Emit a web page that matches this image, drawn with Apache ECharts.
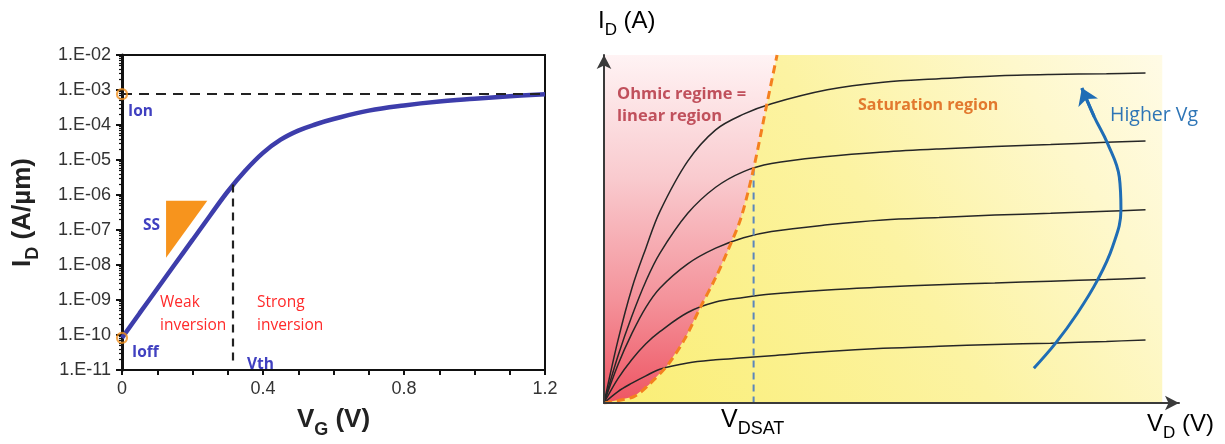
<!DOCTYPE html>
<html>
<head>
<meta charset="utf-8">
<script src="https://cdn.jsdelivr.net/npm/echarts@6/dist/echarts.min.js"></script>
<style>
  html, body { margin: 0; padding: 0; background: #ffffff; }
  #chart { width: 1225px; height: 444px; }
</style>
</head>
<body>
<div id="chart"></div>
<script>
// ---------- Transfer characteristic I_D(V_G), log scale ----------
const vg = [0, 0.05, 0.1, 0.15, 0.2, 0.25, 0.3, 0.35, 0.4, 0.45, 0.5, 0.55, 0.6, 0.7, 0.8, 0.9, 1.0, 1.1, 1.2];
const idTransfer = [8.3e-11, 4.2e-10, 2.1e-9, 1.05e-8, 5.2e-8, 2.6e-7, 1.26e-6, 5.0e-6, 1.6e-5,
                    3.8e-5, 6.9e-5, 1.05e-4, 1.48e-4, 2.57e-4, 3.63e-4, 4.68e-4, 5.6e-4, 6.6e-4, 7.6e-4];
const ion = 7.6e-4;
const ioff = 8.3e-11;
const vth = 0.315;
const idAtVth = 2.0e-6;
const vthLineEnd = 1.8e-11;
const ssTriangleVg = [0.125, 0.242, 0.125];
const ssTriangleId = [6.8e-7, 6.8e-7, 1.6e-8];
const vgTickStep = 0.4;
const idTickLabels = ['1.E-11', '1.E-10', '1.E-09', '1.E-08', '1.E-07', '1.E-06', '1.E-05', '1.E-04', '1.E-03', '1.E-02'];

// ---------- Output characteristic I_D(V_D), arbitrary linear units ----------
const vd = [0, 0.25, 0.5, 0.75, 1.0, 1.5, 2.0, 2.5, 3.0, 4.0, 5.0, 6.0, 7.0, 8.0, 9.0, 9.7];
const idVg5 = [0, 1.8, 3.3, 4.45, 5.5, 6.95, 7.85, 8.3, 8.6, 9.0, 9.22, 9.32, 9.4, 9.44, 9.46, 9.48];
const idVg4 = [0, 1.35, 2.5, 3.5, 4.3, 5.45, 6.2, 6.65, 6.88, 7.08, 7.21, 7.3, 7.37, 7.43, 7.49, 7.53];
const idVg3 = [0, 1.1, 2.0, 2.75, 3.3, 4.0, 4.45, 4.75, 4.93, 5.12, 5.26, 5.33, 5.4, 5.45, 5.51, 5.55];
const idVg2 = [0, 0.7, 1.25, 1.7, 2.05, 2.6, 2.9, 3.03, 3.13, 3.25, 3.33, 3.4, 3.45, 3.5, 3.55, 3.59];
const idVg1 = [0, 0.33, 0.57, 0.78, 0.97, 1.15, 1.24, 1.3, 1.36, 1.48, 1.57, 1.63, 1.68, 1.72, 1.77, 1.81];
// V_DSAT boundary between the ohmic and saturation regions
const satEdgeVd = [0, 0.53, 0.8, 1.14, 1.45, 1.73, 2.0, 2.21, 2.45, 2.68, 2.92, 3.1];
const satEdgeId = [0, 0.18, 0.52, 1.09, 1.85, 2.76, 3.6, 4.35, 5.3, 6.74, 8.61, 10];
const vdsat = 2.68;
const idAtVdsat = 6.74;
const regionMaxVd = 10;
const regionMaxId = 10;
// "Higher Vg" arrow path
const arrowVd = [7.70, 8.09, 8.48, 8.84, 9.11, 9.26, 9.23, 9.02, 8.78, 8.56];
const arrowId = [1.00, 1.72, 2.58, 3.53, 4.49, 5.55, 6.50, 7.46, 8.23, 9.05];

const zip = (xs, ys) => xs.map((x, i) => [x, ys[i]]);

const SANS = 'Liberation Sans';
const CAL = 'Open Sans';

const chart = echarts.init(document.getElementById('chart'), null, { renderer: 'canvas' });

const outputCurves = [idVg1, idVg2, idVg3, idVg4, idVg5].map((ids, k) => ({
  name: 'Vg' + (k + 1),
  type: 'line',
  xAxisIndex: 1, yAxisIndex: 1,
  data: zip(vd, ids),
  smooth: 0.35,
  showSymbol: false,
  silent: true,
  z: 3,
  lineStyle: { color: '#262626', width: 1.5 }
}));

const subTitleRich = (big, small, weight) => ({
  m: { fontFamily: SANS, fontWeight: weight, fontSize: big, color: '#222222', verticalAlign: 'bottom', padding: [0, 0, 6, 0] },
  s: { fontFamily: SANS, fontWeight: weight, fontSize: small, color: '#222222', verticalAlign: 'bottom' }
});

const arrowAxis = (max) => ({
  gridIndex: 1, type: 'value', min: 0, max: max, z: 10,
  axisLine: { show: true, onZero: false, symbol: ['none', 'arrow'], symbolSize: [11, 14], lineStyle: { color: '#3a3a3a', width: 2 } },
  axisTick: { show: false }, axisLabel: { show: false }, splitLine: { show: false }
});

const option = {
  animation: false,
  backgroundColor: '#ffffff',
  grid: [
    { left: 122, top: 55, width: 423, height: 321, show: true, borderColor: '#111111', borderWidth: 2, backgroundColor: 'rgba(0,0,0,0)' },
    { left: 604, top: 55, width: 575, height: 348 }
  ],
  xAxis: [
    {
      gridIndex: 0, type: 'value', min: 0, max: 1.2, interval: vgTickStep,
      axisLine: { show: true, onZero: false, lineStyle: { color: '#111111', width: 2 } },
      axisTick: { show: true, inside: false, length: 5, lineStyle: { color: '#111111', width: 2 } },
      minorTick: { show: true, splitNumber: 4, length: 5, lineStyle: { color: '#111111', width: 2 } },
      splitLine: { show: false },
      axisLabel: { fontFamily: SANS, fontSize: 18, color: '#333333', margin: 10 },
      name: '{m|V}{s|G}{m| (V)}',
      nameLocation: 'middle', nameGap: 37,
      nameTextStyle: { rich: subTitleRich(26, 18, 'bold') }
    },
    arrowAxis(10.3)
  ],
  yAxis: [
    {
      gridIndex: 0, type: 'log', logBase: 10, min: 1e-11, max: 1e-2,
      axisLine: { show: true, onZero: false, lineStyle: { color: '#111111', width: 3 } },
      axisTick: { show: true, inside: false, length: 6, lineStyle: { color: '#111111', width: 2 } },
      minorTick: { show: true, splitNumber: 9, length: 3, lineStyle: { color: '#111111', width: 1.2 } },
      splitLine: { show: false },
      axisLabel: {
        fontFamily: SANS, fontSize: 18, color: '#333333', margin: 11,
        formatter: v => idTickLabels[Math.round(Math.log10(v)) + 11] || ''
      },
      name: '{m|I}{s|D}{m| (A/µm)}',
      nameLocation: 'middle', nameGap: 80, nameRotate: 90,
      nameTextStyle: { rich: subTitleRich(26, 18, 'bold') }
    },
    arrowAxis(regionMaxId)
  ],
  series: [
    // ---- left: transfer curve with Ion and Vth guides ----
    {
      name: 'ID-VG', type: 'line', xAxisIndex: 0, yAxisIndex: 0,
      data: zip(vg, idTransfer),
      smooth: 0.4, showSymbol: false, silent: true, z: 3,
      lineStyle: { color: '#3d3dab', width: 4.5 },
      markLine: {
        symbol: 'none', silent: true, label: { show: false },
        lineStyle: { color: '#222222', width: 2, type: [10, 7] },
        data: [
          [{ coord: [0, ion] }, { coord: [1.2, ion] }],
          [{ coord: [vth, idAtVth], lineStyle: { type: [8, 6], width: 2.2 } }, { coord: [vth, vthLineEnd] }]
        ]
      }
    },
    {
      name: 'SS', type: 'custom', xAxisIndex: 0, yAxisIndex: 0, silent: true, z: 2,
      data: [[0, 0]],
      renderItem: (params, api) => ({
        type: 'polygon',
        shape: { points: ssTriangleVg.map((x, i) => api.coord([x, ssTriangleId[i]])) },
        style: { fill: '#f7941d' }
      })
    },
    {
      name: 'Ion/Ioff', type: 'scatter', xAxisIndex: 0, yAxisIndex: 0, silent: true, z: 8, zlevel: 1, clip: false,
      data: [[0, ion], [0, ioff]],
      symbol: 'circle', symbolSize: 10,
      itemStyle: { color: 'rgba(0,0,0,0)', borderColor: '#f0901e', borderWidth: 2.2 }
    },
    // ---- right: regions, curves, boundary, arrow ----
    {
      name: 'saturation area', type: 'custom', xAxisIndex: 1, yAxisIndex: 1, silent: true, z: 1,
      data: [[0, 0]],
      renderItem: (params, api) => {
        const a = api.coord([0, regionMaxId]);
        const b = api.coord([regionMaxVd, 0]);
        return {
          type: 'rect',
          shape: { x: a[0], y: a[1], width: b[0] - a[0], height: b[1] - a[1] },
          style: {
            fill: new echarts.graphic.LinearGradient(0, 1, 1, 0, [
              { offset: 0, color: '#faee74' },
              { offset: 0.5, color: '#fcf3a2' },
              { offset: 0.8, color: '#fef8cc' },
              { offset: 1, color: '#fffbe6' }
            ])
          }
        };
      }
    },
    {
      name: 'ohmic area', type: 'custom', xAxisIndex: 1, yAxisIndex: 1, silent: true, z: 2,
      data: [[0, 0]],
      renderItem: (params, api) => {
        const pts = satEdgeVd.map((x, i) => api.coord([x, satEdgeId[i]]));
        pts.push(api.coord([0, regionMaxId]));
        return {
          type: 'polygon',
          shape: { points: pts },
          style: {
            fill: new echarts.graphic.LinearGradient(0, 0, 0, 1, [
              { offset: 0, color: '#fff3f4' },
              { offset: 0.35, color: '#f9cbcf' },
              { offset: 0.7, color: '#f4939b' },
              { offset: 1, color: '#ee5563' }
            ])
          }
        };
      }
    },
    ...outputCurves,
    {
      name: 'VDSAT', type: 'line', xAxisIndex: 1, yAxisIndex: 1,
      data: [[vdsat, idAtVdsat], [vdsat, 0]],
      showSymbol: false, silent: true, z: 4,
      lineStyle: { color: '#5b86bd', width: 2, type: [7, 5] }
    },
    {
      name: 'sat edge', type: 'line', xAxisIndex: 1, yAxisIndex: 1,
      data: zip(satEdgeVd, satEdgeId),
      smooth: 0.3, showSymbol: false, silent: true, z: 5,
      lineStyle: { color: '#f4801f', width: 3, type: [8, 5] }
    },
    {
      name: 'Higher Vg', type: 'line', xAxisIndex: 1, yAxisIndex: 1,
      data: zip(arrowVd, arrowId),
      smooth: 0.4, showSymbol: false, silent: true, z: 6,
      lineStyle: { color: '#1f6db5', width: 3 }
    },
    {
      name: 'Higher Vg head', type: 'lines', coordinateSystem: 'cartesian2d', xAxisIndex: 1, yAxisIndex: 1,
      silent: true, z: 6,
      symbol: ['none', 'arrow'], symbolSize: 16,
      lineStyle: { color: '#1f6db5', width: 3, opacity: 1, curveness: 0 },
      data: [{ coords: [[arrowVd[8], arrowId[8]], [arrowVd[9], arrowId[9]]] }]
    }
  ],
  graphic: [
    // left annotations
    { type: 'text', x: 128, y: 112, silent: true, style: { text: 'Ion', font: `bold 15.5px "${CAL}"`, fill: '#4040c0', verticalAlign: 'middle' } },
    { type: 'text', x: 143, y: 226, silent: true, style: { text: 'SS', font: `bold 15.5px "${CAL}"`, fill: '#4040c0', verticalAlign: 'middle' } },
    { type: 'text', x: 132, y: 353, silent: true, style: { text: 'Ioff', font: `bold 15.5px "${CAL}"`, fill: '#4040c0', verticalAlign: 'middle' } },
    { type: 'text', x: 247, y: 365, silent: true, style: { text: 'Vth', font: `bold 15.5px "${CAL}"`, fill: '#4040c0', verticalAlign: 'middle' } },
    { type: 'text', x: 160, y: 291, silent: true, style: { text: 'Weak\ninversion', font: `400 15.5px "${CAL}"`, lineHeight: 23, fill: '#ff2a2a', verticalAlign: 'top' } },
    { type: 'text', x: 257, y: 291, silent: true, style: { text: 'Strong\ninversion', font: `400 15.5px "${CAL}"`, lineHeight: 23, fill: '#ff2a2a', verticalAlign: 'top' } },
    // right annotations
    { type: 'text', x: 617, y: 83, silent: true, z: 10, style: { text: 'Ohmic regime =\nlinear region', font: `bold 16.5px "${CAL}"`, lineHeight: 22, fill: '#c0505c', verticalAlign: 'top' } },
    { type: 'text', x: 858, y: 105, silent: true, z: 10, style: { text: 'Saturation region', font: `bold 16px "${CAL}"`, fill: '#e2792e', verticalAlign: 'middle' } },
    { type: 'text', x: 1110, y: 115, silent: true, z: 10, style: { text: 'Higher Vg', font: `400 19.5px "${CAL}"`, fill: '#2e75b6', verticalAlign: 'middle' } },
    {
      type: 'text', x: 598, y: 24, silent: true,
      style: { text: '{m|I}{s|D}{m| (A)}', verticalAlign: 'middle', rich: subTitleRich(24, 17, 'normal') }
    },
    {
      type: 'text', x: 721, y: 423, silent: true,
      style: { text: '{m|V}{s|DSAT}', verticalAlign: 'middle', rich: subTitleRich(25, 18, 'normal') }
    },
    {
      type: 'text', x: 1147, y: 427, silent: true,
      style: { text: '{m|V}{s|D}{m| (V)}', verticalAlign: 'middle', rich: subTitleRich(24, 17, 'normal') }
    }
  ]
};

chart.setOption(option);
</script>
</body>
</html>
